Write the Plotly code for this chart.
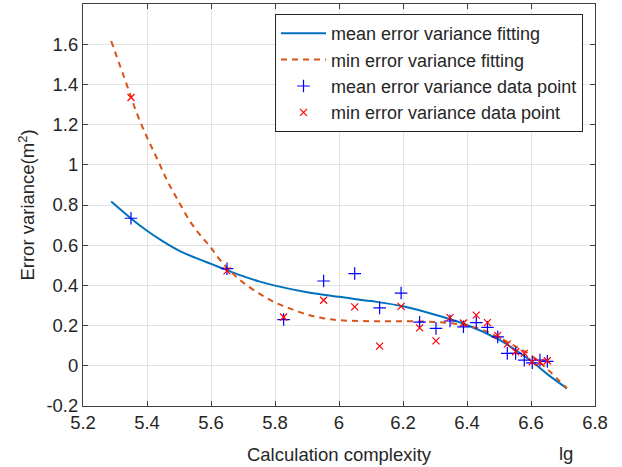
import plotly.graph_objects as go

# Data points
x_pts = [5.350, 5.650, 5.827, 5.952, 6.049, 6.127, 6.194, 6.252, 6.303, 6.347,
         6.389, 6.429, 6.464, 6.496, 6.526, 6.552, 6.579, 6.604, 6.628, 6.651]
mean_pts = [0.734, 0.483, 0.230, 0.422, 0.459, 0.288, 0.362, 0.217, 0.186, 0.223,
            0.194, 0.215, 0.191, 0.144, 0.062, 0.062, 0.028, 0.015, 0.028, 0.022]
min_pts = [1.335, 0.472, 0.243, 0.326, 0.293, 0.098, 0.296, 0.189, 0.124, 0.240,
           0.213, 0.252, 0.215, 0.151, 0.108, 0.070, 0.062, 0.020, 0.017, 0.025]

# Fitted curves
mean_fit_x = [5.288, 5.35, 5.40, 5.45, 5.50, 5.55, 5.60, 5.65, 5.70, 5.75, 5.80,
              5.90, 6.00, 6.10, 6.20, 6.30, 6.40, 6.50, 6.55, 6.60, 6.65, 6.712]
mean_fit_y = [0.817, 0.733, 0.672, 0.619, 0.573, 0.538, 0.507, 0.476, 0.446, 0.420, 0.399,
              0.366, 0.343, 0.322, 0.296, 0.254, 0.203, 0.130, 0.080, 0.025, -0.040, -0.112]

min_fit_x = [5.288, 5.338, 5.369, 5.40, 5.432, 5.463, 5.494, 5.536, 5.567, 5.598,
             5.629, 5.671, 5.70, 5.75, 5.80, 5.85, 5.90, 5.95, 6.00, 6.10,
             6.20, 6.30, 6.35, 6.40, 6.45, 6.50, 6.55, 6.60, 6.65, 6.712]
min_fit_y = [1.616, 1.393, 1.253, 1.137, 1.029, 0.922, 0.831, 0.715, 0.649, 0.591,
             0.525, 0.455, 0.415, 0.360, 0.315, 0.283, 0.255, 0.237, 0.227, 0.222,
             0.222, 0.218, 0.212, 0.200, 0.178, 0.140, 0.098, 0.052, -0.015, -0.112]

x_ticks = [5.2, 5.4, 5.6, 5.8, 6.0, 6.2, 6.4, 6.6, 6.8]
x_ticktext = ["5.2", "5.4", "5.6", "5.8", "6", "6.2", "6.4", "6.6", "6.8"]
y_ticks = [-0.2, 0, 0.2, 0.4, 0.6, 0.8, 1.0, 1.2, 1.4, 1.6]
y_ticktext = ["-0.2", "0", "0.2", "0.4", "0.6", "0.8", "1", "1.2", "1.4", "1.6"]

FONT = "Liberation Sans, Arial, Helvetica, sans-serif"
TXT = "#262626"
FS = 18.5

L, R, T, B = 82.5, 595, 4, 406

fig = go.Figure()
fig.add_trace(go.Scatter(x=mean_fit_x, y=mean_fit_y, mode="lines", line_shape="spline",
                         line=dict(color="#0072BD", width=2),
                         name="mean error variance fitting"))
fig.add_trace(go.Scatter(x=min_fit_x, y=min_fit_y, mode="lines", line_shape="spline",
                         line=dict(color="#D95319", width=2, dash="6px,5px"),
                         name="min error variance fitting"))
fig.add_trace(go.Scatter(x=x_pts, y=mean_pts, mode="markers",
                         marker=dict(symbol="cross-thin", size=9,
                                     line=dict(color="#0000FF", width=1.2)),
                         name="mean error variance data point"))
fig.add_trace(go.Scatter(x=x_pts, y=min_pts, mode="markers",
                         marker=dict(symbol="x-thin", size=7,
                                     line=dict(color="#FF0000", width=1.2)),
                         name="min error variance data point"))

axis_common = dict(showgrid=True, gridcolor="#e3e3e3", gridwidth=1,
                   showline=True, linecolor="#404040", linewidth=1, mirror="ticks",
                   ticks="inside", ticklen=5, tickcolor="#404040",
                   zeroline=False, tickfont=dict(family=FONT, size=FS, color=TXT))

fig.update_xaxes(range=[5.2, 6.8], tickvals=x_ticks, ticktext=x_ticktext,
                 title=dict(text="Calculation complexity", font=dict(family=FONT, size=FS, color=TXT),
                            standoff=15),
                 **axis_common)
fig.update_yaxes(range=[-0.2, 1.8], tickvals=y_ticks, ticktext=y_ticktext,
                 title=dict(text="Error variance(m<sup>2</sup>)", font=dict(family=FONT, size=FS, color=TXT),
                            standoff=6),
                 **axis_common)

fig.add_annotation(xref="paper", yref="paper", text="lg", showarrow=False,
                   x=(566 - L) / (R - L), y=-(453 - B) / (B - T),
                   xanchor="center", yanchor="middle",
                   font=dict(family=FONT, size=FS, color=TXT))

fig.update_layout(
    width=622, height=467,
    margin=dict(l=L, r=622 - R, t=T, b=467 - B),
    paper_bgcolor="white", plot_bgcolor="white",
    font=dict(family=FONT, size=FS, color=TXT),
    showlegend=True,
    legend=dict(x=(583 - L) / (R - L), y=(B - 14) / (B - T), xanchor="right", yanchor="top",
                bgcolor="white", bordercolor="#262626", borderwidth=1,
                font=dict(family=FONT, size=18, color=TXT),
                tracegroupgap=0, itemwidth=45),
)

fig.write_html("out.html")
